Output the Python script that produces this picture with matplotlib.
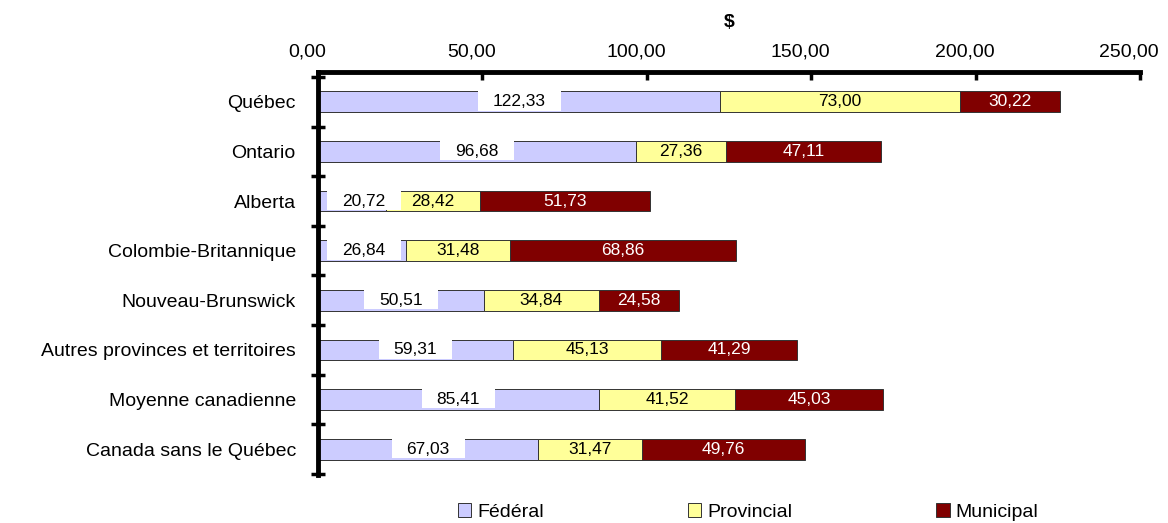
import numpy as np
import matplotlib.pyplot as plt
import matplotlib.transforms as mtransforms
from matplotlib.patches import Rectangle

plt.rcParams["font.family"] = ["Liberation Sans", "DejaVu Sans"]

regions = [
    "Québec",
    "Ontario",
    "Alberta",
    "Colombie-Britannique",
    "Nouveau-Brunswick",
    "Autres provinces et territoires",
    "Moyenne canadienne",
    "Canada sans le Québec",
]
federal = [122.33, 96.68, 20.72, 26.84, 50.51, 59.31, 85.41, 67.03]
provincial = [73.00, 27.36, 28.42, 31.48, 34.84, 45.13, 41.52, 31.47]
municipal = [30.22, 47.11, 51.73, 68.86, 24.58, 41.29, 45.03, 49.76]
xticks = [0, 50, 100, 150, 200, 250]

c_fed = "#ccccff"
c_prov = "#ffff99"
c_mun = "#800000"


def fmt(v):
    return f"{v:.2f}".replace(".", ",")


fig = plt.figure(figsize=(11.68, 5.23), dpi=100)
ax = fig.add_axes([0.2723, 0.0918, 0.7037, 0.7705])

y = np.arange(len(regions))
h = 0.42
fed = np.array(federal)
prov = np.array(provincial)
mun = np.array(municipal)

ax.barh(y, fed, height=h, color=c_fed, edgecolor="#333333", linewidth=0.7, label="Fédéral")
ax.barh(y, prov, height=h, left=fed, color=c_prov, edgecolor="#333333", linewidth=0.7, label="Provincial")
ax.barh(y, mun, height=h, left=fed + prov, color=c_mun, edgecolor="#333333", linewidth=0.7, label="Municipal")

ax.set_xlim(0, 250)
ax.set_ylim(len(regions) - 0.48, -0.6)

fed_texts = []
for i in range(len(regions)):
    xc = max(fed[i] / 2, 14)
    t = ax.text(xc, y[i], fmt(fed[i]), ha="center", va="center", fontsize=12.5, zorder=5)
    fed_texts.append(t)
    ax.text(fed[i] + prov[i] / 2, y[i], fmt(prov[i]), ha="center", va="center",
            fontsize=12.5, color="black")
    ax.text(fed[i] + prov[i] + mun[i] / 2, y[i], fmt(mun[i]), ha="center", va="center",
            fontsize=12.5, color="white")

# white box behind the federal labels, as wide as the text plus padding, as tall as the bar
renderer = fig.canvas.get_renderer()
px_per_unit = ax.bbox.width / 250
for i, t in enumerate(fed_texts):
    w = t.get_window_extent(renderer).width / px_per_unit + 30 / px_per_unit
    xc = t.get_position()[0]
    ax.add_patch(Rectangle((xc - w / 2, y[i] - h / 2 - 0.01), w, h - 0.02,
                           facecolor="white", edgecolor="none", zorder=4))

ax.xaxis.tick_top()
ax.xaxis.set_label_position("top")
ax.set_xticks(xticks)
ax.set_xticklabels([fmt(v) for v in xticks], fontsize=14)
ax.set_xlabel("$", fontsize=14, fontweight="bold", labelpad=12)
ax.tick_params(axis="x", direction="in", length=6, width=2.5, pad=8)
# the original's tick labels sit a little left of their ticks
shift = mtransforms.ScaledTranslation(-0.11, 0, fig.dpi_scale_trans)
for lbl in ax.get_xticklabels():
    lbl.set_transform(lbl.get_transform() + shift)

ax.set_yticks(y)
ax.set_yticklabels(regions, fontsize=14)
ax.tick_params(axis="y", length=0, pad=16)
ax.set_yticks(np.arange(-0.5, len(regions), 1.0), minor=True)
ax.tick_params(axis="y", which="minor", direction="inout", length=10, width=2.5)

for s in ["right", "bottom"]:
    ax.spines[s].set_visible(False)
ax.spines["top"].set_linewidth(3.5)
ax.spines["left"].set_linewidth(3.5)

ax.legend(loc="center", bbox_to_anchor=(0.523, -0.092), ncol=3, frameon=False,
          fontsize=14, handlelength=0.7, handleheight=0.7, handletextpad=0.3,
          columnspacing=7.4, borderaxespad=0)

fig.savefig("out.png", dpi=100)
